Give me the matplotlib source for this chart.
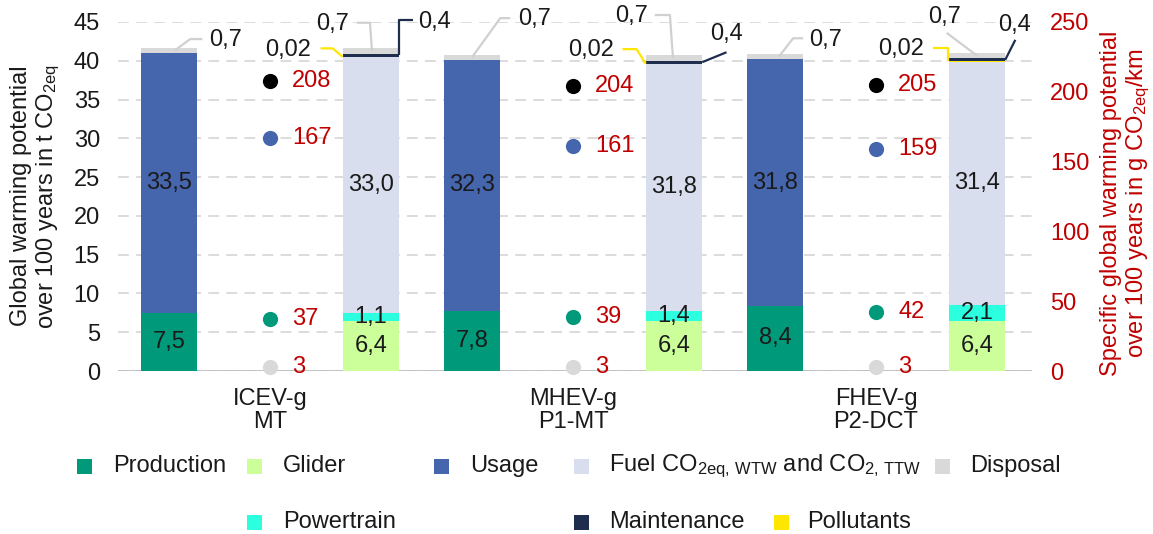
import matplotlib
matplotlib.use("Agg")
import matplotlib.pyplot as plt
from matplotlib.patches import Rectangle

plt.rcParams['font.family'] = ['Liberation Sans', 'DejaVu Sans']
plt.rcParams['mathtext.fontset'] = 'custom'
plt.rcParams['mathtext.rm'] = 'Liberation Sans'
plt.rcParams['mathtext.it'] = 'Liberation Sans'
plt.rcParams['mathtext.bf'] = 'Liberation Sans:bold'
plt.rcParams['mathtext.default'] = 'regular'

# ---- data -------------------------------------------------------------
vehicles = ["ICEV-g\nMT", "MHEV-g\nP1-MT", "FHEV-g\nP2-DCT"]

# left bar: life-cycle phases (t CO2eq)
production = [7.5, 7.8, 8.4]
usage = [33.5, 32.3, 31.8]
disposal = [0.7, 0.7, 0.7]

# right bar: detailed breakdown (t CO2eq)
glider = [6.4, 6.4, 6.4]
powertrain = [1.1, 1.4, 2.1]
fuel = [33.0, 31.8, 31.4]
pollutants = [0.02, 0.02, 0.02]
maintenance = [0.4, 0.4, 0.4]
disposal_detail = [0.7, 0.7, 0.7]

# specific values (g CO2eq/km), secondary axis
spec_total = [208, 204, 205]
spec_usage = [167, 161, 159]
spec_production = [37, 39, 42]
spec_disposal = [3, 3, 3]

# ---- style ------------------------------------------------------------
C_PROD = "#00997A"
C_GLIDER = "#CCFF99"
C_USAGE = "#4565AD"
C_FUEL = "#D9DEEE"
C_DISP = "#D9D9D9"
C_POWER = "#2BFFDF"
C_MAINT = "#1F2D4E"
C_POLL = "#FFE600"
C_RED = "#C00000"
C_TXT = "#1A1A1A"
FS = 17

W, H = 1153, 534
fig = plt.figure(figsize=(W / 100, H / 100), dpi=100)
ax = fig.add_axes([118 / W, 1 - 371 / H, (1032 - 118) / W, (371 - 22) / H])
ax2 = ax.twinx()


def fmt(v, nd=1):
    return f"{v:.{nd}f}".replace(".", ",")


bw = 0.555
n = len(vehicles)
x_left = [3 * i for i in range(n)]
x_dot = [3 * i + 1 for i in range(n)]
x_right = [3 * i + 2 for i in range(n)]

# left stacked bars
b0 = [0] * n
ax.bar(x_left, production, bw, bottom=b0, color=C_PROD, zorder=2)
b1 = [p for p in production]
ax.bar(x_left, usage, bw, bottom=b1, color=C_USAGE, zorder=2)
b2 = [p + u for p, u in zip(production, usage)]
ax.bar(x_left, disposal, bw, bottom=b2, color=C_DISP, zorder=2)

# right stacked bars
r1 = [g for g in glider]
r2 = [g + p for g, p in zip(glider, powertrain)]
r3 = [a + f for a, f in zip(r2, fuel)]
r4 = [a + p for a, p in zip(r3, pollutants)]
r5 = [a + m for a, m in zip(r4, maintenance)]
ax.bar(x_right, glider, bw, bottom=b0, color=C_GLIDER, zorder=2)
ax.bar(x_right, powertrain, bw, bottom=r1, color=C_POWER, zorder=2)
ax.bar(x_right, fuel, bw, bottom=r2, color=C_FUEL, zorder=2)
ax.bar(x_right, pollutants, bw, bottom=r3, color=C_POLL, zorder=2)
ax.bar(x_right, maintenance, bw, bottom=r4, color=C_MAINT, zorder=2)
ax.bar(x_right, disposal_detail, bw, bottom=r5, color=C_DISP, zorder=2)

# in-bar value labels
for i in range(n):
    ax.text(x_left[i], production[i] / 2, fmt(production[i]), ha="center", va="center",
            fontsize=FS, color=C_TXT, zorder=4)
    ax.text(x_left[i], b1[i] + usage[i] / 2, fmt(usage[i]), ha="center", va="center",
            fontsize=FS, color=C_TXT, zorder=4)
    ax.text(x_right[i], glider[i] / 2, fmt(glider[i]), ha="center", va="center",
            fontsize=FS, color=C_TXT, zorder=4)
    ax.text(x_right[i], r1[i] + powertrain[i] / 2, fmt(powertrain[i]), ha="center",
            va="center", fontsize=FS, color=C_TXT, zorder=4)
    ax.text(x_right[i], r2[i] + fuel[i] / 2, fmt(fuel[i]), ha="center", va="center",
            fontsize=FS, color=C_TXT, zorder=4)

# leader-line callouts for the thin top segments
# each entry: path points (dx from bar centre, y; None = segment anchor), text pos, alignment
left_disp_layout = [
    ([(0.06, None), (0.21, 42.8), (0.33, 42.8)], (0.40, 42.7), "left"),
    ([(0.00, None), (0.28, 45.5), (0.38, 45.5)], (0.46, 45.4), "left"),
    ([(0.04, None), (0.18, 42.9), (0.28, 42.9)], (0.34, 42.7), "left"),
]
right_disp_layout = [
    ([(0.01, None), (-0.01, 44.9), (-0.14, 44.9)], (-0.22, 44.7), "right"),
    ([(-0.01, None), (-0.04, 45.9), (-0.19, 45.9)], (-0.26, 45.8), "right"),
    ([(0.00, None), (-0.30, 43.6)], (-0.16, 45.6), "right"),
]
poll_layout = [
    ([(-0.28, None), (-0.38, 41.6), (-0.50, 41.6)], (-0.59, 41.4), "right"),
    ([(-0.28, None), (-0.37, 41.5), (-0.51, 41.5)], (-0.59, 41.4), "right"),
    ([(-0.29, None), (-0.29, 41.6), (-0.44, 41.6)], (-0.52, 41.5), "right"),
]
maint_layout = [
    ([(0.28, None), (0.28, 45.3), (0.42, 45.3)], (0.47, 45.0), "left"),
    ([(0.28, None), (0.52, 41.1)], (0.36, 43.4), "left"),
    ([(0.28, None), (0.38, 42.7)], (0.21, 44.6), "left"),
]


def callout(xc, anchor_y, layout, label, color):
    pts, (tx, ty), ha = layout
    xs = [xc + dx for dx, _ in pts]
    ys = [anchor_y if y is None else y for _, y in pts]
    ax.plot(xs, ys, color=color, lw=1.6, zorder=3, clip_on=False,
            solid_capstyle="butt")
    ax.text(xc + tx, ty, label, ha=ha, va="center", fontsize=FS, color=C_TXT,
            zorder=4, clip_on=False)


for i in range(n):
    callout(x_left[i], b2[i] + disposal[i] / 2, left_disp_layout[i],
            fmt(disposal[i]), "#D0D0D0")
    callout(x_right[i], r5[i] + disposal_detail[i] / 2, right_disp_layout[i],
            fmt(disposal_detail[i]), "#D0D0D0")
    callout(x_right[i], r3[i] + pollutants[i] / 2, poll_layout[i],
            fmt(pollutants[i], 2), C_POLL)
    callout(x_right[i], r4[i] + maintenance[i] / 2, maint_layout[i],
            fmt(maintenance[i]), C_MAINT)

# specific values as dots on the secondary axis
dot_series = [
    (spec_total, "black"),
    (spec_usage, C_USAGE),
    (spec_production, C_PROD),
    (spec_disposal, C_DISP),
]
for vals, col in dot_series:
    ax2.scatter(x_dot, vals, s=120, color=col, zorder=5, clip_on=False, linewidths=0)
    for xd, v in zip(x_dot, vals):
        ax2.text(xd + 0.22, v, str(v), ha="left", va="center", fontsize=FS,
                 color=C_RED, zorder=5, clip_on=False)

# axes
ax.set_xlim(-0.505, 8.545)
ax.set_ylim(0, 45)
ax2.set_ylim(0, 250)
ax.set_yticks(range(0, 50, 5))
ax2.set_yticks(range(0, 300, 50))
ax.set_xticks(x_dot)
ax.set_xticklabels(vehicles, fontsize=FS, color=C_TXT, linespacing=1.1)
ax.tick_params(axis="x", length=0, pad=12)
ax.tick_params(axis="y", length=0, pad=13, labelsize=FS, labelcolor=C_TXT)
ax2.tick_params(axis="y", length=0, pad=13, labelsize=FS, labelcolor=C_RED)

ax.set_axisbelow(True)
ax.yaxis.grid(True, color="#D9D9D9", lw=1.3, linestyle=(0, (6, 4)))
for a in (ax, ax2):
    for s in ("top", "left", "right", "bottom"):
        a.spines[s].set_visible(False)
ax.axhline(0, color="#BFBFBF", lw=1.3, zorder=1)

fig.text(36 / W, 1 - 196 / H,
         "Global warming potential\nover 100 years in t CO$_{2eq}$",
         rotation=90, ha="center", va="center", fontsize=FS, color=C_TXT,
         multialignment="center", linespacing=1.15)
fig.text(1126 / W, 1 - 203 / H,
         "Specific global warming potential\nover 100 years in g CO$_{2eq}$/km",
         rotation=90, ha="center", va="center", fontsize=FS, color=C_RED,
         multialignment="center", linespacing=1.15)

# legend laid out in two rows
legend_items = [
    ("Production", C_PROD, 77, 113, 466),
    ("Glider", C_GLIDER, 247, 283, 466),
    ("Usage", C_USAGE, 434, 470, 466),
    ("Fuel CO$_{2eq,\\,WTW}$ and CO$_{2,\\,TTW}$", C_FUEL, 574, 609, 466),
    ("Disposal", C_DISP, 935, 970, 466),
    ("Powertrain", C_POWER, 247, 283, 522),
    ("Maintenance", C_MAINT, 574, 609, 522),
    ("Pollutants", C_POLL, 774, 807, 522),
]
sq = 15
for label, col, sx, tx, ry in legend_items:
    fig.add_artist(Rectangle((sx / W, 1 - (ry + sq / 2) / H), sq / W, sq / H,
                             transform=fig.transFigure, color=col, lw=0))
    fig.text(tx / W, 1 - ry / H, label, ha="left", va="center", fontsize=FS,
             color=C_TXT)

fig.savefig("out.png", dpi=100, facecolor="white")
